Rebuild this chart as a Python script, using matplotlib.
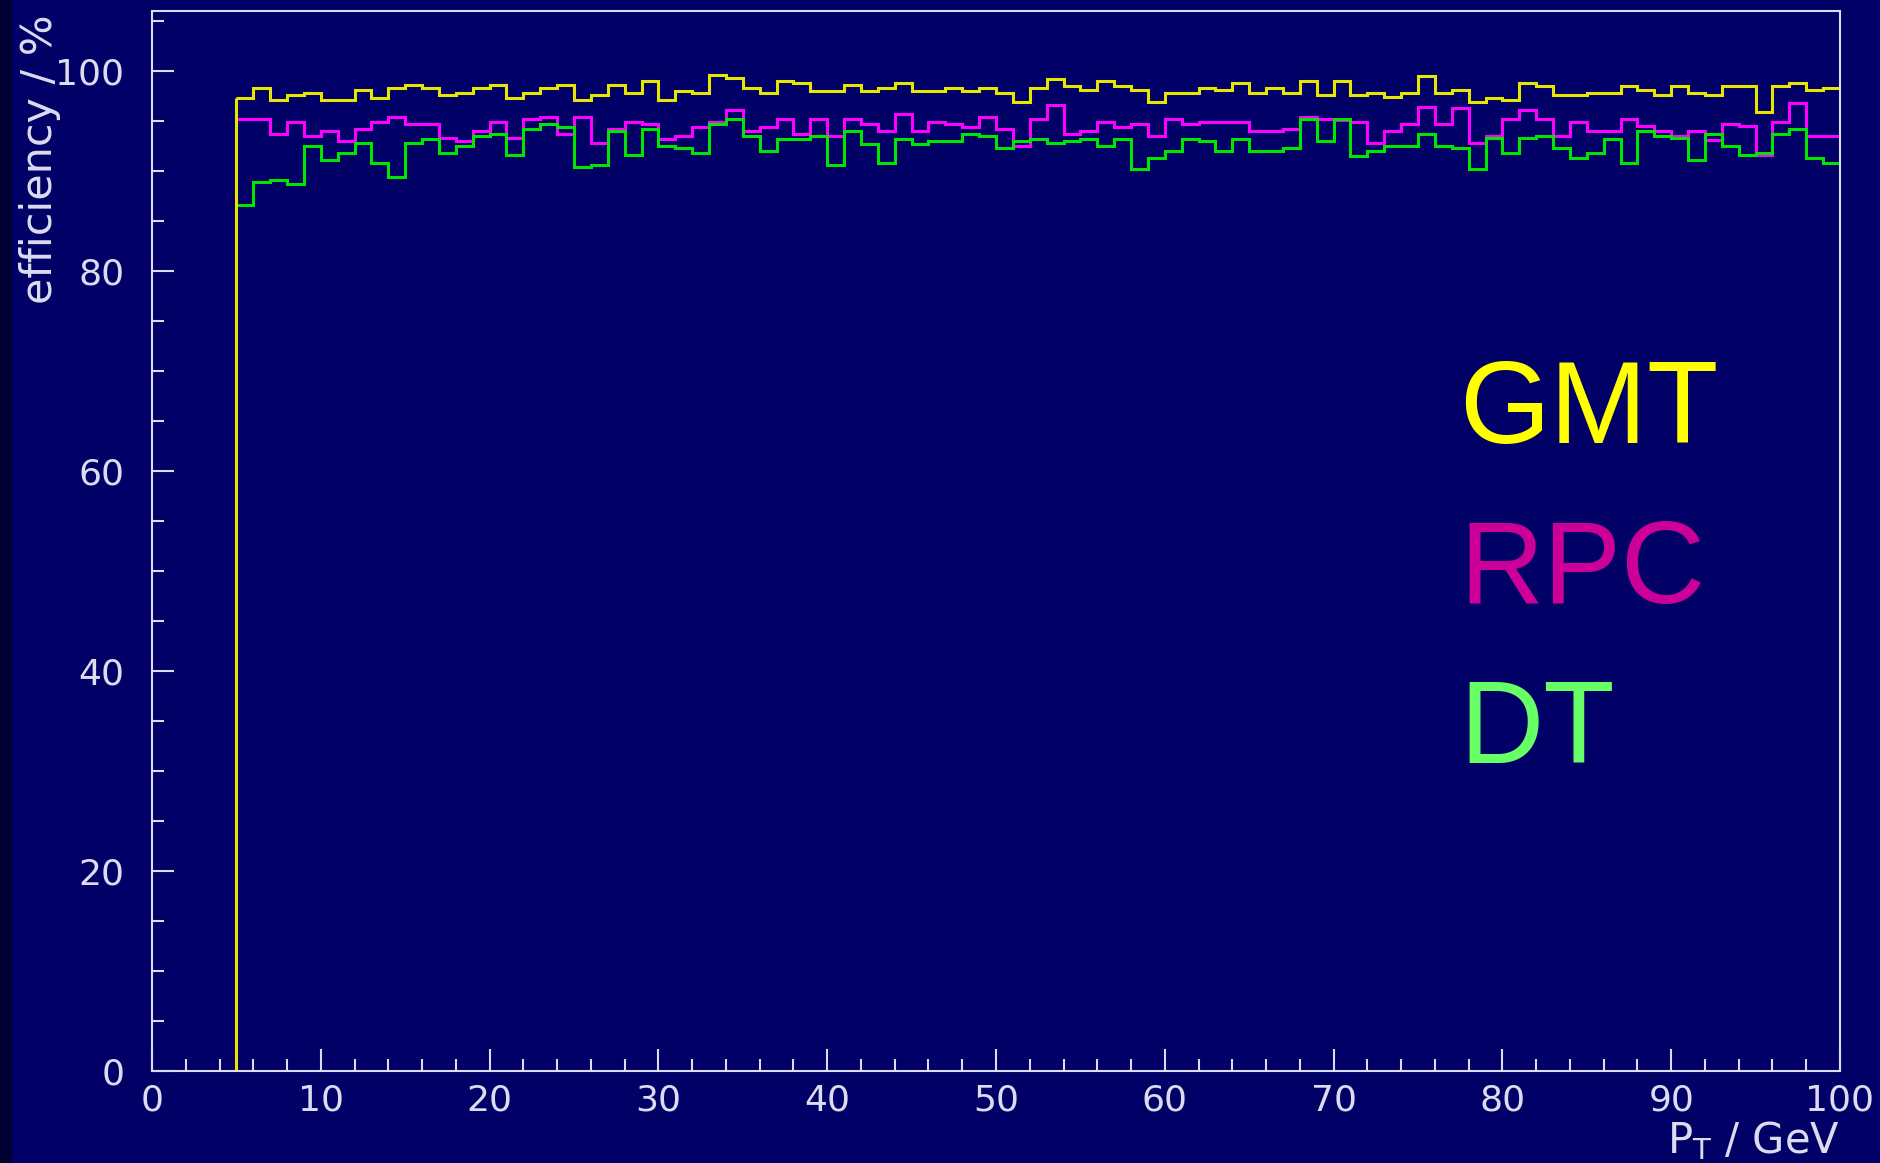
import matplotlib.pyplot as plt
import numpy as np
from matplotlib.ticker import MultipleLocator

# bin edges in GeV (1 GeV bins from 5 to 100)
edges = np.arange(5, 101)

gmt = [97.3, 98.3, 97.1, 97.6, 97.8, 97.1, 97.1, 98.1, 97.3, 98.3,
       98.6, 98.3, 97.6, 97.8, 98.3, 98.6, 97.3, 97.8, 98.3, 98.6,
       97.1, 97.6, 98.6, 97.8, 99.0, 97.1, 98.0, 97.8, 99.6, 99.3,
       98.3, 97.8, 99.0, 98.8, 98.0, 98.0, 98.6, 98.0, 98.3, 98.8,
       98.0, 98.0, 98.3, 98.0, 98.3, 97.8, 96.9, 98.3, 99.2, 98.5,
       98.1, 99.0, 98.5, 98.1, 96.9, 97.8, 97.8, 98.3, 98.1, 98.8,
       97.8, 98.3, 97.8, 99.0, 97.6, 99.0, 97.6, 97.8, 97.4, 97.8,
       99.5, 97.8, 98.1, 96.9, 97.3, 97.1, 98.8, 98.5, 97.6, 97.6,
       97.8, 97.8, 98.5, 98.1, 97.6, 98.5, 97.8, 97.6, 98.5, 98.5,
       95.9, 98.5, 98.8, 98.1, 98.3]

rpc = [95.2, 95.2, 93.7, 94.9, 93.5, 94.0, 93.0, 94.2, 94.9, 95.4,
       94.7, 94.7, 93.3, 93.0, 94.0, 94.9, 93.3, 95.2, 95.4, 93.7,
       95.4, 92.8, 94.2, 94.9, 94.7, 93.2, 93.5, 94.4, 94.9, 96.1,
       94.0, 94.4, 95.2, 93.7, 95.2, 93.5, 95.2, 94.7, 94.0, 95.7,
       94.0, 94.9, 94.7, 94.4, 95.4, 94.2, 92.5, 95.2, 96.6, 93.7,
       94.0, 94.9, 94.4, 94.7, 93.5, 95.2, 94.7, 94.9, 94.9, 94.9,
       94.0, 94.0, 94.2, 95.4, 95.2, 95.1, 94.9, 92.8, 94.0, 94.7,
       96.4, 94.7, 96.3, 92.8, 93.5, 95.2, 96.1, 95.2, 93.5, 94.9,
       94.0, 94.0, 95.2, 94.5, 94.0, 93.5, 94.0, 93.1, 94.7, 94.5,
       91.6, 94.9, 96.8, 93.5, 93.5]

dt = [86.6, 88.9, 89.1, 88.7, 92.5, 91.1, 91.8, 92.8, 90.8, 89.4,
      92.8, 93.2, 91.8, 92.5, 93.5, 93.7, 91.6, 94.2, 94.7, 94.4,
      90.4, 90.6, 94.0, 91.6, 94.2, 92.5, 92.3, 91.8, 94.7, 95.2,
      93.5, 92.0, 93.2, 93.2, 93.5, 90.6, 94.0, 92.7, 90.8, 93.2,
      92.7, 93.0, 93.0, 93.7, 93.5, 92.3, 93.0, 93.2, 92.8, 93.0,
      93.2, 92.5, 93.2, 90.2, 91.3, 92.0, 93.2, 93.0, 92.0, 93.2,
      92.0, 92.0, 92.3, 95.2, 93.0, 95.2, 91.5, 92.0, 92.5, 92.5,
      93.7, 92.5, 92.3, 90.2, 93.3, 91.8, 93.3, 93.5, 92.3, 91.3,
      91.8, 93.2, 90.8, 94.0, 93.5, 93.3, 91.1, 93.7, 92.5, 91.6,
      91.8, 93.7, 94.2, 91.3, 90.8]

bg = "#000066"
fg = "#dcdcf0"

fig = plt.figure(figsize=(18.81, 11.63), dpi=100, facecolor=bg)
ax = fig.add_axes([152/1881, 1 - 1071/1163, (1840-152)/1881, (1071-11)/1163])
ax.set_facecolor(bg)

# dark strip on the far left edge
fig.patches.append(plt.Rectangle((0, 0), 11/1881, 1, transform=fig.transFigure,
                                 color="#000033", zorder=0))

ax.stairs(rpc, edges, baseline=None, color="#ff00ff", lw=2.2)
ax.stairs(dt, edges, baseline=None, color="#00e600", lw=2.2)
ax.stairs(gmt, edges, baseline=None, color="#e6e600", lw=2.2)
ax.vlines(edges[0], 0, gmt[0], color="#e6e600", lw=2.2)

ax.set_xlim(0, 100)
ax.set_ylim(0, 106)

ax.xaxis.set_major_locator(MultipleLocator(10))
ax.xaxis.set_minor_locator(MultipleLocator(2))
ax.yaxis.set_major_locator(MultipleLocator(20))
ax.yaxis.set_minor_locator(MultipleLocator(5))
ax.tick_params(which="both", direction="in", colors=fg, width=1.5,
               top=False, right=False, labelsize=26)
ax.tick_params(which="major", length=16)
ax.tick_params(which="minor", length=8.5)
ax.tick_params(axis="x", pad=9)
ax.tick_params(axis="y", pad=20)
for s in ax.spines.values():
    s.set_color(fg)
    s.set_linewidth(1.5)

fig.text(40/1881, 1 - 14/1163, "efficiency / %", rotation=90, ha="center", va="top",
         color=fg, fontsize=31)
fig.text(1840/1881, 1 - 1153/1163, r"P$_{\mathrm{T}}$ / GeV", ha="right", va="baseline",
         color=fg, fontsize=30)

fig.text(1459/1881, 1 - 443/1163, "GMT", color="#ffff00", fontsize=84,
         family="Liberation Sans", va="baseline")
fig.text(1459/1881, 1 - 603/1163, "RPC", color="#cc0099", fontsize=84,
         family="Liberation Sans", va="baseline")
fig.text(1459/1881, 1 - 763/1163, "DT", color="#66ff66", fontsize=84,
         family="Liberation Sans", va="baseline")

fig.savefig("out.png", dpi=100, facecolor=bg)
